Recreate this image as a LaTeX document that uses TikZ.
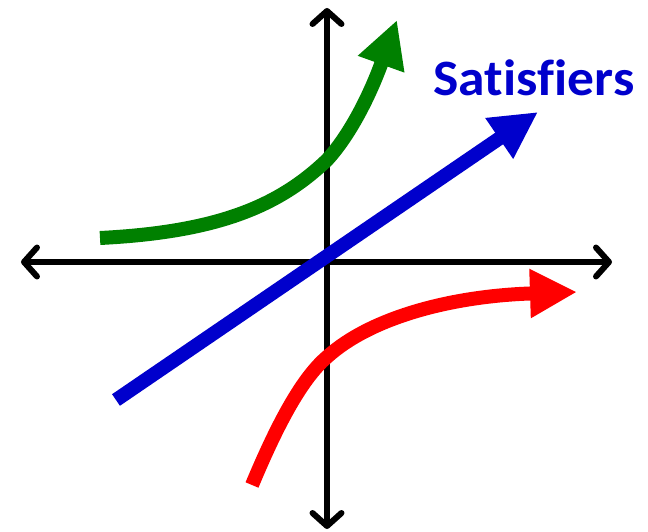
\documentclass[tikz,border=0pt]{standalone}
\usepackage{fontspec}
\setmainfont{Carlito}[Ligatures=NoCommon]
\usetikzlibrary{arrows.meta}
\definecolor{cgreen}{RGB}{0,128,0}
\definecolor{cblue}{RGB}{0,0,204}
\definecolor{cred}{RGB}{255,0,0}
\begin{document}
\begin{tikzpicture}[x=1pt,y=-1pt,
  axis/.style={line width=6pt,{Straight Barb[length=13pt,width=29pt,round]}-{Straight Barb[length=13pt,width=29pt,round]}},
  curve/.style={line width=14pt,-{Triangle[length=47pt,width=46pt]}}]
\useasboundingbox (0,0) rectangle (648,532);
\coordinate (L) at (21,262);
\coordinate (R) at (612,262);
\coordinate (T) at (327,8);
\coordinate (B) at (327,529);
\draw[axis] (L) -- (R);
\draw[axis] (B) -- (T);
\coordinate (g0) at (100,238);
\coordinate (g1) at (327,160);
\coordinate (g2) at (397,20);
\draw[curve,cgreen] (g0) .. controls (220,232) and (280,205) .. (g1) .. controls (350,135) and (370,95) .. (g2);
\coordinate (b0) at (116,400);
\coordinate (b1) at (538,112);
\draw[curve,cblue] (b0) -- (b1);
\coordinate (r0) at (252,485);
\coordinate (r1) at (327,357);
\coordinate (r2) at (577,292);
\draw[curve,cred] (r0) .. controls (275,430) and (300,380) .. (r1) .. controls (370,318) and (450,296) .. (r2);
\node[text=cblue,font=\bfseries\fontsize{51}{60}\selectfont,inner sep=0pt,xscale=1.05] (sat) at (534,78) {Satisfiers};
\end{tikzpicture}
\end{document}
